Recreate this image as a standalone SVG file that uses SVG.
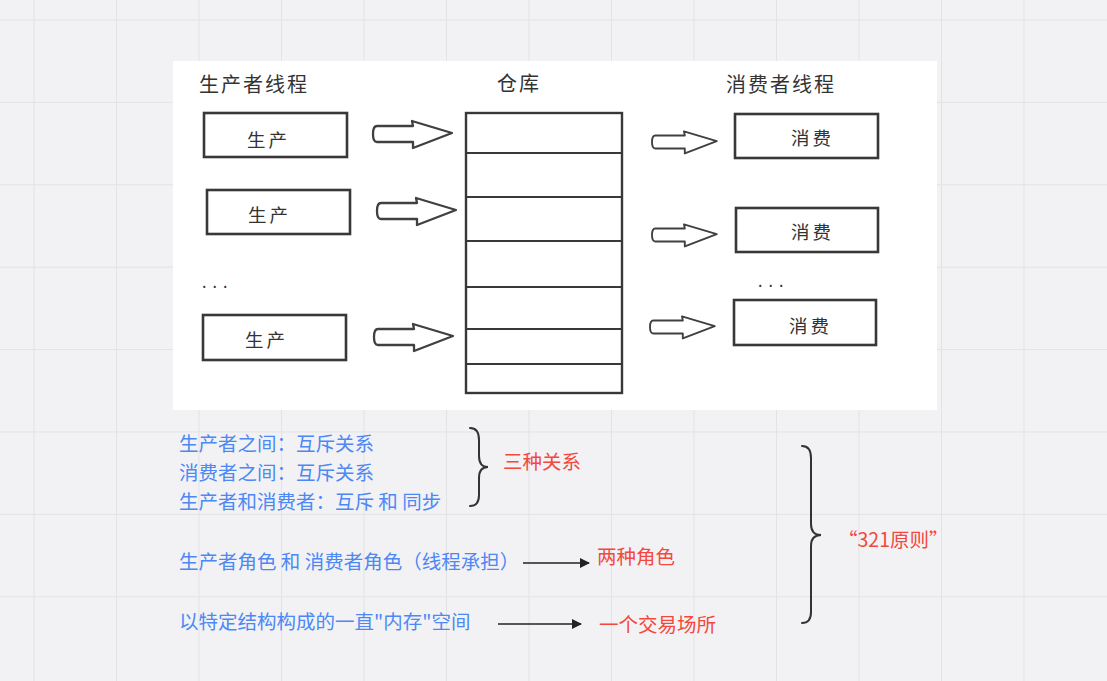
<svg xmlns="http://www.w3.org/2000/svg" width="1107" height="681" viewBox="0 0 1107 681">
<defs>
<style>
.grid{stroke:#e3e3e6;stroke-width:1}
.box{fill:#fff;stroke:#383838;stroke-width:2.6}
.wh{fill:#fff;stroke:#383838;stroke-width:2.4}
.div{stroke:#383838;stroke-width:2.2}
.fat{fill:#fff;stroke:#404040;stroke-width:2.3;stroke-linejoin:round}
.t{font-family:"Noto Sans CJK SC","Noto Sans",sans-serif;fill:#333}
.title{font-size:20px;letter-spacing:2px}
.lbl{font-size:18.5px;letter-spacing:3px}
.blue{font-family:"Noto Sans CJK SC","Noto Sans",sans-serif;font-size:19.5px;fill:#4d88f5}
.red{font-family:"Noto Sans CJK SC","Noto Sans",sans-serif;font-size:19.5px;fill:#f2483e}
.brace{fill:none;stroke:#333;stroke-width:2;stroke-linecap:round}
.conn{stroke:#222;stroke-width:1.6;fill:none}
</style>
<marker id="ah" viewBox="0 0 10 10" refX="9" refY="5" markerWidth="10" markerHeight="10" markerUnits="userSpaceOnUse" orient="auto">
<path d="M0,0 L10,5 L0,10 Z" fill="#222"/>
</marker>
<path id="fatArrow" d="M4,-8 L40,-8 L39,-13 L79,-1 L40,14 L40,8 L4,8 Q0,8 0,0 Q0,-8 4,-8 Z"/>
</defs>
<rect width="1107" height="681" fill="#f2f2f4"/>
<g id="grid">
<path class="grid" d="M34,0V681M116.5,0V681M199,0V681M281.5,0V681M364,0V681M446.5,0V681M529,0V681M611.5,0V681M694,0V681M776.5,0V681M859,0V681M941.5,0V681M1024,0V681M0,20H1107M0,102.4H1107M0,184.8H1107M0,267.2H1107M0,349.6H1107M0,432H1107M0,514.4H1107M0,596.8H1107"/>
</g>
<rect id="panel" x="173" y="61" width="764" height="349" fill="#fff"/>
<g id="titles">
<text class="t title" x="199" y="92">生产者线程</text>
<text class="t title" x="497" y="91">仓库</text>
<text class="t title" x="726" y="92">消费者线程</text>
</g>
<g id="producer1"><rect class="box" x="204" y="113" width="143" height="44"/><text class="t lbl" x="247" y="147">生产</text></g>
<g id="producer2"><rect class="box" x="207" y="190" width="143" height="44"/><text class="t lbl" x="248" y="222">生产</text></g>
<g id="producer-dots"><text class="t" x="202" y="288" font-size="16" letter-spacing="6">...</text></g>
<g id="producer3"><rect class="box" x="203" y="315" width="143" height="45"/><text class="t lbl" x="245" y="347">生产</text></g>
<g id="warehouse">
<rect class="wh" x="466" y="113" width="156" height="280"/>
<path class="div" d="M466,153H622M466,197H622M466,241H622M466,287H622M466,329H622M466,364H622"/>
</g>
<g id="consumer1"><rect class="box" x="735" y="114" width="143" height="44"/><text class="t lbl" x="791" y="145">消费</text></g>
<g id="consumer2"><rect class="box" x="736" y="208" width="142" height="44"/><text class="t lbl" x="791" y="239">消费</text></g>
<g id="consumer-dots"><text class="t" x="758" y="287" font-size="16" letter-spacing="6">...</text></g>
<g id="consumer3"><rect class="box" x="734" y="300" width="142" height="45"/><text class="t lbl" x="789" y="333">消费</text></g>
<g id="rel1"><text class="blue" x="179" y="451">生产者之间：互斥关系</text></g>
<g id="rel2"><text class="blue" x="179" y="480">消费者之间：互斥关系</text></g>
<g id="rel3"><text class="blue" x="179" y="509">生产者和消费者：互斥 和 同步</text></g>
<g id="roles"><text class="blue" x="179" y="569">生产者角色 和 消费者角色（线程承担）</text></g>
<g id="space"><text class="blue" x="179" y="629">以特定结构构成的一直"内存"空间</text></g>
<g id="three"><text class="red" x="503" y="469">三种关系</text></g>
<g id="two"><text class="red" x="597" y="564">两种角色</text></g>
<g id="one"><text class="red" x="599" y="632">一个交易场所</text></g>
<g id="rule"><text class="red" x="838" y="547">“321原则”</text></g>
<g id="connectors">
<use href="#fatArrow" class="fat" transform="translate(373,134)"/>
<use href="#fatArrow" class="fat" transform="translate(377,211)"/>
<use href="#fatArrow" class="fat" transform="translate(374,337)"/>
<use href="#fatArrow" class="fat" transform="translate(652,142) scale(0.82)"/>
<use href="#fatArrow" class="fat" transform="translate(652,235) scale(0.82)"/>
<use href="#fatArrow" class="fat" transform="translate(650,327) scale(0.82)"/>
<path class="brace" d="M470,428 Q479,428 479,440 L479,456 Q479,467 488,467 Q479,467 479,478 L479,495 Q479,506 470,506"/>
<path class="brace" d="M802,446 Q811,446 811,458 L811,524 Q811,535 821,535 Q811,535 811,546 L811,612 Q811,623 802,623"/>
<path class="conn" d="M523,563H589" marker-end="url(#ah)"/>
<path class="conn" d="M498,624H581" marker-end="url(#ah)"/>
</g>
</svg>
